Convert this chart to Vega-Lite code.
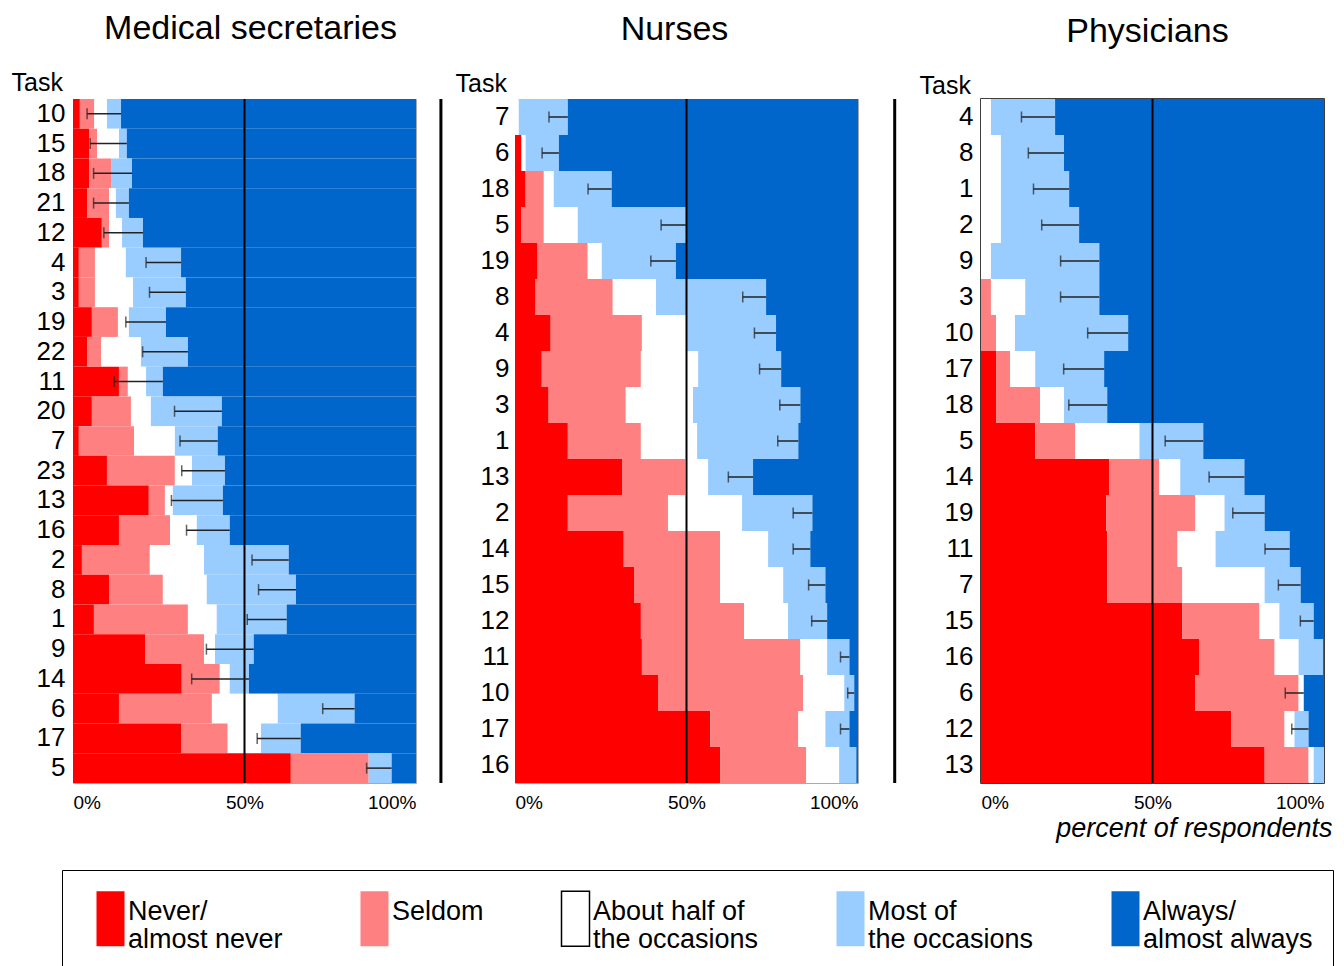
{
  "$schema": "https://vega.github.io/schema/vega-lite/v6.json",
  "padding": {"left": 10, "top": 11, "right": 0, "bottom": 0},
  "autosize": {"type": "pad"},
  "spacing": 21,
  "datasets": {
    "ms": [
      {"task":"10","c1_never":2.0,"c2_seldom":4.2,"c3_half":3.7,"c4_most":4.1,"c5_always":86.0,"err_lo":4.1,"err_hi":14.0},
      {"task":"15","c1_never":4.7,"c2_seldom":2.3,"c3_half":6.4,"c4_most":2.3,"c5_always":84.3,"err_lo":5.0,"err_hi":15.7},
      {"task":"18","c1_never":4.7,"c2_seldom":6.4,"c3_half":0,"c4_most":6.1,"c5_always":82.8,"err_lo":6.0,"err_hi":17.2},
      {"task":"21","c1_never":4.1,"c2_seldom":6.4,"c3_half":2.0,"c4_most":3.8,"c5_always":83.7,"err_lo":6.0,"err_hi":16.3},
      {"task":"12","c1_never":8.4,"c2_seldom":2.1,"c3_half":3.8,"c4_most":6.1,"c5_always":79.6,"err_lo":9.0,"err_hi":20.4},
      {"task":"4","c1_never":1.7,"c2_seldom":4.7,"c3_half":9.0,"c4_most":16.1,"c5_always":68.5,"err_lo":21.3,"err_hi":31.5},
      {"task":"3","c1_never":1.7,"c2_seldom":4.7,"c3_half":11.1,"c4_most":15.4,"c5_always":67.1,"err_lo":22.3,"err_hi":32.9},
      {"task":"19","c1_never":5.5,"c2_seldom":7.6,"c3_half":3.2,"c4_most":10.8,"c5_always":72.9,"err_lo":15.4,"err_hi":27.1},
      {"task":"22","c1_never":4.1,"c2_seldom":4.1,"c3_half":11.6,"c4_most":13.7,"c5_always":66.5,"err_lo":20.3,"err_hi":33.5},
      {"task":"11","c1_never":13.4,"c2_seldom":2.6,"c3_half":5.3,"c4_most":4.9,"c5_always":73.8,"err_lo":12.0,"err_hi":26.2},
      {"task":"20","c1_never":5.5,"c2_seldom":11.4,"c3_half":5.8,"c4_most":20.7,"c5_always":56.6,"err_lo":29.6,"err_hi":43.4},
      {"task":"7","c1_never":1.7,"c2_seldom":16.1,"c3_half":11.9,"c4_most":12.5,"c5_always":57.8,"err_lo":31.2,"err_hi":42.2},
      {"task":"23","c1_never":9.9,"c2_seldom":19.8,"c3_half":5.0,"c4_most":9.6,"c5_always":55.7,"err_lo":31.7,"err_hi":44.3},
      {"task":"13","c1_never":22.1,"c2_seldom":4.7,"c3_half":2.3,"c4_most":14.6,"c5_always":56.3,"err_lo":28.7,"err_hi":43.7},
      {"task":"16","c1_never":13.4,"c2_seldom":14.9,"c3_half":7.8,"c4_most":9.6,"c5_always":54.3,"err_lo":33.1,"err_hi":45.7},
      {"task":"2","c1_never":2.6,"c2_seldom":19.8,"c3_half":15.8,"c4_most":24.7,"c5_always":37.1,"err_lo":52.2,"err_hi":62.9},
      {"task":"8","c1_never":10.5,"c2_seldom":15.7,"c3_half":12.8,"c4_most":26.0,"c5_always":35.0,"err_lo":54.1,"err_hi":65.0},
      {"task":"1","c1_never":6.1,"c2_seldom":27.4,"c3_half":8.4,"c4_most":20.4,"c5_always":37.7,"err_lo":50.8,"err_hi":62.3},
      {"task":"9","c1_never":21.0,"c2_seldom":17.2,"c3_half":3.2,"c4_most":11.3,"c5_always":47.3,"err_lo":38.9,"err_hi":52.7},
      {"task":"14","c1_never":31.7,"c2_seldom":11.1,"c3_half":2.9,"c4_most":5.6,"c5_always":48.7,"err_lo":34.6,"err_hi":51.3},
      {"task":"6","c1_never":13.4,"c2_seldom":27.1,"c3_half":19.2,"c4_most":22.4,"c5_always":17.9,"err_lo":72.8,"err_hi":82.1},
      {"task":"17","c1_never":31.5,"c2_seldom":13.6,"c3_half":9.7,"c4_most":11.6,"c5_always":33.6,"err_lo":53.7,"err_hi":66.4},
      {"task":"5","c1_never":63.5,"c2_seldom":22.7,"c3_half":0,"c4_most":6.7,"c5_always":7.1,"err_lo":85.6,"err_hi":92.9}
    ],
    "nu": [
      {"task":"7","c1_never":0,"c2_seldom":0,"c3_half":1.1,"c4_most":14.3,"c5_always":84.6,"err_lo":9.9,"err_hi":15.4},
      {"task":"6","c1_never":1.9,"c2_seldom":0,"c3_half":1.2,"c4_most":9.7,"c5_always":87.2,"err_lo":7.9,"err_hi":12.8},
      {"task":"18","c1_never":3.1,"c2_seldom":5.3,"c3_half":2.9,"c4_most":16.9,"c5_always":71.8,"err_lo":21.3,"err_hi":28.2},
      {"task":"5","c1_never":1.9,"c2_seldom":6.5,"c3_half":9.9,"c4_most":31.7,"c5_always":50.0,"err_lo":42.6,"err_hi":50.0},
      {"task":"19","c1_never":6.6,"c2_seldom":14.6,"c3_half":4.1,"c4_most":21.6,"c5_always":53.1,"err_lo":39.6,"err_hi":46.9},
      {"task":"8","c1_never":6.0,"c2_seldom":22.5,"c3_half":12.6,"c4_most":32.1,"c5_always":26.8,"err_lo":66.4,"err_hi":73.2},
      {"task":"4","c1_never":10.4,"c2_seldom":26.6,"c3_half":12.9,"c4_most":26.2,"c5_always":23.9,"err_lo":69.8,"err_hi":76.1},
      {"task":"9","c1_never":7.8,"c2_seldom":28.9,"c3_half":16.7,"c4_most":24.2,"c5_always":22.4,"err_lo":71.3,"err_hi":77.6},
      {"task":"3","c1_never":9.8,"c2_seldom":22.5,"c3_half":19.6,"c4_most":31.3,"c5_always":16.8,"err_lo":77.2,"err_hi":83.2},
      {"task":"1","c1_never":15.4,"c2_seldom":21.3,"c3_half":16.4,"c4_most":29.5,"c5_always":17.4,"err_lo":76.6,"err_hi":82.6},
      {"task":"13","c1_never":31.2,"c2_seldom":18.4,"c3_half":6.7,"c4_most":13.1,"c5_always":30.6,"err_lo":62.2,"err_hi":69.4},
      {"task":"2","c1_never":15.4,"c2_seldom":29.2,"c3_half":21.6,"c4_most":20.5,"c5_always":13.3,"err_lo":81.1,"err_hi":86.7},
      {"task":"14","c1_never":31.7,"c2_seldom":28.1,"c3_half":14.0,"c4_most":12.3,"c5_always":13.9,"err_lo":81.1,"err_hi":86.1},
      {"task":"15","c1_never":34.7,"c2_seldom":25.1,"c3_half":18.4,"c4_most":12.3,"c5_always":9.5,"err_lo":85.6,"err_hi":90.5},
      {"task":"12","c1_never":36.7,"c2_seldom":30.1,"c3_half":12.8,"c4_most":11.4,"c5_always":9.0,"err_lo":86.5,"err_hi":91.0},
      {"task":"11","c1_never":37.0,"c2_seldom":46.2,"c3_half":7.8,"c4_most":6.5,"c5_always":2.5,"err_lo":94.9,"err_hi":97.5},
      {"task":"10","c1_never":41.7,"c2_seldom":42.3,"c3_half":12.0,"c4_most":2.9,"c5_always":1.1,"err_lo":97.0,"err_hi":98.9},
      {"task":"17","c1_never":56.9,"c2_seldom":25.7,"c3_half":7.9,"c4_most":7.0,"c5_always":2.5,"err_lo":94.9,"err_hi":97.5},
      {"task":"16","c1_never":59.8,"c2_seldom":25.1,"c3_half":9.6,"c4_most":5.0,"c5_always":0.5,"err_lo":null,"err_hi":null}
    ],
    "ph": [
      {"task":"4","c1_never":0,"c2_seldom":0,"c3_half":2.9,"c4_most":18.7,"c5_always":78.4,"err_lo":11.8,"err_hi":21.6},
      {"task":"8","c1_never":0,"c2_seldom":0,"c3_half":5.8,"c4_most":18.4,"c5_always":75.8,"err_lo":13.8,"err_hi":24.2},
      {"task":"1","c1_never":0,"c2_seldom":0,"c3_half":5.8,"c4_most":19.9,"c5_always":74.3,"err_lo":15.3,"err_hi":25.7},
      {"task":"2","c1_never":0,"c2_seldom":0,"c3_half":5.8,"c4_most":22.8,"c5_always":71.4,"err_lo":17.7,"err_hi":28.6},
      {"task":"9","c1_never":0,"c2_seldom":0,"c3_half":2.9,"c4_most":31.6,"c5_always":65.5,"err_lo":23.2,"err_hi":34.5},
      {"task":"3","c1_never":0,"c2_seldom":2.9,"c3_half":10.0,"c4_most":21.6,"c5_always":65.5,"err_lo":23.2,"err_hi":34.5},
      {"task":"10","c1_never":0,"c2_seldom":4.4,"c3_half":5.5,"c4_most":33.0,"c5_always":57.1,"err_lo":31.1,"err_hi":42.9},
      {"task":"17","c1_never":4.4,"c2_seldom":4.1,"c3_half":7.3,"c4_most":20.1,"c5_always":64.1,"err_lo":24.1,"err_hi":35.9},
      {"task":"18","c1_never":4.4,"c2_seldom":12.8,"c3_half":7.0,"c4_most":12.6,"c5_always":63.2,"err_lo":25.6,"err_hi":36.8},
      {"task":"5","c1_never":15.8,"c2_seldom":11.7,"c3_half":18.7,"c4_most":18.6,"c5_always":35.2,"err_lo":53.7,"err_hi":64.8},
      {"task":"14","c1_never":37.4,"c2_seldom":14.6,"c3_half":6.1,"c4_most":18.7,"c5_always":23.2,"err_lo":66.5,"err_hi":76.8},
      {"task":"19","c1_never":36.5,"c2_seldom":26.0,"c3_half":8.5,"c4_most":11.7,"c5_always":17.3,"err_lo":73.4,"err_hi":82.7},
      {"task":"11","c1_never":36.8,"c2_seldom":20.5,"c3_half":11.1,"c4_most":21.6,"c5_always":10.0,"err_lo":82.8,"err_hi":90.0},
      {"task":"7","c1_never":36.8,"c2_seldom":21.9,"c3_half":24.0,"c4_most":10.5,"c5_always":6.8,"err_lo":86.7,"err_hi":93.2},
      {"task":"15","c1_never":58.7,"c2_seldom":22.5,"c3_half":5.8,"c4_most":10.0,"c5_always":3.0,"err_lo":93.1,"err_hi":97.0},
      {"task":"16","c1_never":63.7,"c2_seldom":21.9,"c3_half":7.0,"c4_most":7.2,"c5_always":0.2,"err_lo":null,"err_hi":null},
      {"task":"6","c1_never":62.5,"c2_seldom":30.1,"c3_half":1.5,"c4_most":0,"c5_always":5.9,"err_lo":88.7,"err_hi":94.1},
      {"task":"12","c1_never":73.0,"c2_seldom":15.5,"c3_half":2.9,"c4_most":4.1,"c5_always":4.5,"err_lo":90.6,"err_hi":95.5},
      {"task":"13","c1_never":82.7,"c2_seldom":12.8,"c3_half":1.5,"c4_most":3.0,"c5_always":0,"err_lo":null,"err_hi":null}
    ],
    "ref": [{"half_mark": 50}]
  },
  "config": {
    "font": "Liberation Sans",
    "view": {"stroke": null},
    "axis": {"grid": false, "ticks": false, "tickSize": 0, "domain": false, "labelColor": "black", "titleColor": "black", "labelFont": "Liberation Sans", "titleFont": "Liberation Sans"},
    "title": {"fontSize": 34, "fontWeight": "normal", "font": "Liberation Sans", "anchor": "middle", "frame": "group", "baseline": "alphabetic", "offset": 24, "color": "black"},
    "legend": {"labelFont": "Liberation Sans", "labelColor": "black"}
  },
  "hconcat": [
    {
      "width": 343, "height": 684,
      "title": {"text": "Medical secretaries", "dx": 6},
      "view": {"stroke": "#aaaaaa", "strokeWidth": 1},
      "data": {"name": "ms"},
      "layer": [
        {
          "transform": [{"fold": ["c1_never","c2_seldom","c3_half","c4_most","c5_always"], "as": ["level","pct"]}],
          "mark": {"type": "bar"},
          "encoding": {
            "y": {"field": "task", "type": "nominal", "sort": ["10","15","18","21","12","4","3","19","22","11","20","7","23","13","16","2","8","1","9","14","6","17","5"], "scale": {"paddingInner": 0, "paddingOuter": 0},
                  "axis": {"title": "Task", "labelFontSize": 26, "labelPadding": 8, "titleAngle": 0, "titleAlign": "left", "titleBaseline": "alphabetic", "titleFontSize": 25, "titleFontWeight": "normal", "titleX": -62, "titleY": -9}},
            "x": {"field": "pct", "type": "quantitative", "stack": "zero", "scale": {"domain": [0, 100], "nice": false},
                  "axis": {"title": null, "values": [0, 50, 100], "labelExpr": "datum.value + '%'", "labelFontSize": 19, "labelPadding": 10, "labelFlush": true}},
            "color": {"field": "level", "type": "nominal",
              "scale": {"domain": ["c1_never","c2_seldom","c3_half","c4_most","c5_always"], "range": ["#FF0000","#FF8080","#FFFFFF","#99CCFF","#0066CC"]},
              "legend": {"orient": "none", "legendX": -11, "legendY": 771, "direction": "horizontal", "title": null,
                "symbolType": "M-0.509,-1H0.509V1H-0.509Z", "symbolSize": 3025, "symbolOpacity": 1,
                "labelFontSize": 27, "labelLimit": 0, "labelOffset": -11, "columnPadding": 63, "padding": 20, "strokeColor": "black",
                "labelExpr": "datum.value == 'c1_never' ? ['Never/','almost never'] : datum.value == 'c2_seldom' ? ['Seldom',''] : datum.value == 'c3_half' ? ['About half of','the occasions'] : datum.value == 'c4_most' ? ['Most of','the occasions'] : ['Always/','almost always']",
                "encode": {"symbols": {"update": {"stroke": {"signal": "datum.value === 'c3_half' ? 'black' : 'transparent'"}, "strokeWidth": {"value": 1.5}}},
                           "labels": {"update": {"lineHeight": {"value": 28}, "dy": {"value": -7}}}}}},
            "order": {"field": "level", "sort": "ascending"}
          }
        },
        {
          "data": {"name": "ref"},
          "mark": {"type": "rule", "color": "black", "strokeWidth": 2},
          "encoding": {"x": {"field": "half_mark", "type": "quantitative"}}
        },
        {
          "mark": {"type": "rule", "color": "#222222", "strokeWidth": 1.5},
          "encoding": {
            "y": {"field": "task", "type": "nominal", "sort": ["10","15","18","21","12","4","3","19","22","11","20","7","23","13","16","2","8","1","9","14","6","17","5"]},
            "x": {"field": "err_lo", "type": "quantitative"},
            "x2": {"field": "err_hi"}
          }
        },
        {
          "mark": {"type": "tick", "color": "#222222", "thickness": 1.5, "size": 11},
          "encoding": {
            "y": {"field": "task", "type": "nominal", "sort": ["10","15","18","21","12","4","3","19","22","11","20","7","23","13","16","2","8","1","9","14","6","17","5"]},
            "x": {"field": "err_lo", "type": "quantitative"}
          }
        }
      ]
    },
    {
      "width": 343, "height": 684,
      "title": {"text": "Nurses", "dx": -12},
      "view": {"stroke": "#aaaaaa", "strokeWidth": 1},
      "data": {"name": "nu"},
      "layer": [
        {
          "transform": [{"fold": ["c1_never","c2_seldom","c3_half","c4_most","c5_always"], "as": ["level","pct"]}],
          "mark": {"type": "bar"},
          "encoding": {
            "y": {"field": "task", "type": "nominal", "sort": ["7","6","18","5","19","8","4","9","3","1","13","2","14","15","12","11","10","17","16"], "scale": {"paddingInner": 0, "paddingOuter": 0},
                  "axis": {"title": "Task", "labelFontSize": 26, "labelPadding": 6, "titleAngle": 0, "titleAlign": "left", "titleBaseline": "alphabetic", "titleFontSize": 25, "titleFontWeight": "normal", "titleX": -60, "titleY": -8}},
            "x": {"field": "pct", "type": "quantitative", "stack": "zero", "scale": {"domain": [0, 100], "nice": false},
                  "axis": {"title": null, "values": [0, 50, 100], "labelExpr": "datum.value + '%'", "labelFontSize": 19, "labelPadding": 10, "labelFlush": true}},
            "color": {"field": "level", "type": "nominal",
              "scale": {"domain": ["c1_never","c2_seldom","c3_half","c4_most","c5_always"], "range": ["#FF0000","#FF8080","#FFFFFF","#99CCFF","#0066CC"]},
              "legend": {"orient": "none", "legendX": -11, "legendY": 771, "direction": "horizontal", "title": null,
                "symbolType": "M-0.509,-1H0.509V1H-0.509Z", "symbolSize": 3025, "symbolOpacity": 1,
                "labelFontSize": 27, "labelLimit": 0, "labelOffset": -11, "columnPadding": 63, "padding": 20, "strokeColor": "black",
                "labelExpr": "datum.value == 'c1_never' ? ['Never/','almost never'] : datum.value == 'c2_seldom' ? ['Seldom',''] : datum.value == 'c3_half' ? ['About half of','the occasions'] : datum.value == 'c4_most' ? ['Most of','the occasions'] : ['Always/','almost always']",
                "encode": {"symbols": {"update": {"stroke": {"signal": "datum.value === 'c3_half' ? 'black' : 'transparent'"}, "strokeWidth": {"value": 1.5}}},
                           "labels": {"update": {"lineHeight": {"value": 28}, "dy": {"value": -7}}}}}},
            "order": {"field": "level", "sort": "ascending"}
          }
        },
        {
          "data": {"name": "ref"},
          "mark": {"type": "rule", "color": "black", "strokeWidth": 2},
          "encoding": {"x": {"field": "half_mark", "type": "quantitative"}}
        },
        {
          "mark": {"type": "rule", "color": "#222222", "strokeWidth": 1.5},
          "encoding": {
            "y": {"field": "task", "type": "nominal", "sort": ["7","6","18","5","19","8","4","9","3","1","13","2","14","15","12","11","10","17","16"]},
            "x": {"field": "err_lo", "type": "quantitative"},
            "x2": {"field": "err_hi"}
          }
        },
        {
          "mark": {"type": "tick", "color": "#222222", "thickness": 1.5, "size": 11},
          "encoding": {
            "y": {"field": "task", "type": "nominal", "sort": ["7","6","18","5","19","8","4","9","3","1","13","2","14","15","12","11","10","17","16"]},
            "x": {"field": "err_lo", "type": "quantitative"}
          }
        },
        {
          "data": {"values": [{"sep": -21.6}, {"sep": 110.7}]},
          "mark": {"type": "rule", "color": "black", "strokeWidth": 3},
          "encoding": {"x": {"field": "sep", "type": "quantitative"}}
        }
      ]
    },
    {
      "width": 343, "height": 684,
      "title": {"text": "Physicians", "dx": -5},
      "view": {"stroke": "black", "strokeWidth": 1.5},
      "data": {"name": "ph"},
      "layer": [
        {
          "transform": [{"fold": ["c1_never","c2_seldom","c3_half","c4_most","c5_always"], "as": ["level","pct"]}],
          "mark": {"type": "bar"},
          "encoding": {
            "y": {"field": "task", "type": "nominal", "sort": ["4","8","1","2","9","3","10","17","18","5","14","19","11","7","15","16","6","12","13"], "scale": {"paddingInner": 0, "paddingOuter": 0},
                  "axis": {"title": "Task", "labelFontSize": 26, "labelPadding": 8, "titleAngle": 0, "titleAlign": "left", "titleBaseline": "alphabetic", "titleFontSize": 25, "titleFontWeight": "normal", "titleX": -62, "titleY": -6}},
            "x": {"field": "pct", "type": "quantitative", "stack": "zero", "scale": {"domain": [0, 100], "nice": false},
                  "axis": {"title": "percent of respondents", "values": [0, 50, 100], "labelExpr": "datum.value + '%'", "labelFontSize": 19, "labelPadding": 10, "labelFlush": true,
                           "titleFontStyle": "italic", "titleFontWeight": "normal", "titleFontSize": 27, "titleX": 351, "titleAlign": "right", "titlePadding": 3}},
            "color": {"field": "level", "type": "nominal",
              "scale": {"domain": ["c1_never","c2_seldom","c3_half","c4_most","c5_always"], "range": ["#FF0000","#FF8080","#FFFFFF","#99CCFF","#0066CC"]},
              "legend": {"orient": "none", "legendX": -11, "legendY": 771, "direction": "horizontal", "title": null,
                "symbolType": "M-0.509,-1H0.509V1H-0.509Z", "symbolSize": 3025, "symbolOpacity": 1,
                "labelFontSize": 27, "labelLimit": 0, "labelOffset": -11, "columnPadding": 63, "padding": 20, "strokeColor": "black",
                "labelExpr": "datum.value == 'c1_never' ? ['Never/','almost never'] : datum.value == 'c2_seldom' ? ['Seldom',''] : datum.value == 'c3_half' ? ['About half of','the occasions'] : datum.value == 'c4_most' ? ['Most of','the occasions'] : ['Always/','almost always']",
                "encode": {"symbols": {"update": {"stroke": {"signal": "datum.value === 'c3_half' ? 'black' : 'transparent'"}, "strokeWidth": {"value": 1.5}}},
                           "labels": {"update": {"lineHeight": {"value": 28}, "dy": {"value": -7}}}}}},
            "order": {"field": "level", "sort": "ascending"}
          }
        },
        {
          "data": {"name": "ref"},
          "mark": {"type": "rule", "color": "black", "strokeWidth": 2},
          "encoding": {"x": {"field": "half_mark", "type": "quantitative"}}
        },
        {
          "mark": {"type": "rule", "color": "#222222", "strokeWidth": 1.5},
          "encoding": {
            "y": {"field": "task", "type": "nominal", "sort": ["4","8","1","2","9","3","10","17","18","5","14","19","11","7","15","16","6","12","13"]},
            "x": {"field": "err_lo", "type": "quantitative"},
            "x2": {"field": "err_hi"}
          }
        },
        {
          "mark": {"type": "tick", "color": "#222222", "thickness": 1.5, "size": 11},
          "encoding": {
            "y": {"field": "task", "type": "nominal", "sort": ["4","8","1","2","9","3","10","17","18","5","14","19","11","7","15","16","6","12","13"]},
            "x": {"field": "err_lo", "type": "quantitative"}
          }
        }
      ]
    }
  ]
}
